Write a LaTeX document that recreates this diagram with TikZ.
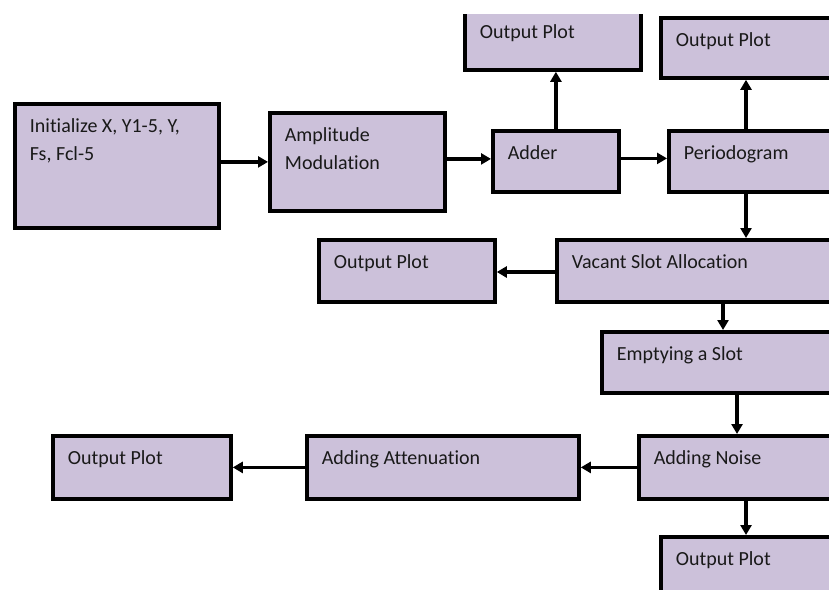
\documentclass[tikz,border=0pt]{standalone}
\usepackage{fontspec}
\setmainfont[Ligatures=NoCommon]{Carlito}
\usetikzlibrary{arrows.meta}

\definecolor{boxfill}{RGB}{204,193,218}

% text of a box, set in its top left corner
\newcommand{\boxtext}[3]{\parbox[t][#2][t]{#1}{\raggedright\leftskip=15pt\rule{0pt}{29pt}#3}}

\tikzset{
  blockbox/.style={draw=black, line width=3.8pt, fill=boxfill, anchor=north west,
    inner sep=0pt, text=black!90, font=\fontsize{20}{28}\selectfont},
  flowarrow/.style={line width=3.5pt, -{Triangle[length=10pt,width=11pt]}}
}

\begin{document}
\begin{tikzpicture}[x=1pt, y=-1pt]

\clip (0,0) rectangle (829,589);
\fill[white] (0,0) rectangle (829,589);

% --- first row ---
\node[blockbox] (init)   at (13,102)  {\boxtext{204pt}{124pt}{Initialize X, Y1-5, Y,\\ Fs, Fcl-5}};
\node[blockbox] (amp)    at (268,111) {\boxtext{175pt}{98pt}{Amplitude\\ Modulation}};
\node[blockbox] (adder)  at (491,129) {\boxtext{126pt}{61pt}{Adder}};
\node[blockbox] (perio)  at (667,129) {\boxtext{200pt}{61pt}{Periodogram}};

% --- output plots on top (the first one is cut at the top) ---
\begin{scope}
  \clip (0,14) rectangle (829,589);
  \node[blockbox] (outA) at (463,8) {\boxtext{176pt}{60pt}{Output Plot}};
\end{scope}
\node[blockbox] (outB)   at (659,16)  {\boxtext{200pt}{60pt}{Output Plot}};

% --- middle rows ---
\node[blockbox] (vacant) at (555,238) {\boxtext{300pt}{62pt}{Vacant Slot Allocation}};
\node[blockbox] (outC)   at (317,238) {\boxtext{176pt}{62pt}{Output Plot}};
\node[blockbox] (empty)  at (600,330) {\boxtext{260pt}{61pt}{Emptying a Slot}};

% --- bottom row ---
\node[blockbox] (noise)  at (637,434) {\boxtext{230pt}{63pt}{Adding Noise}};
\node[blockbox] (atten)  at (305,434) {\boxtext{272pt}{63pt}{Adding Attenuation}};
\node[blockbox] (outD)   at (51,434)  {\boxtext{178pt}{63pt}{Output Plot}};
\node[blockbox] (outE)   at (659,535) {\boxtext{200pt}{80pt}{Output Plot}};

% helper points where the arrows leave the boxes
\coordinate (perioUp)   at ([xshift=79pt]perio.north west);
\coordinate (perioDown) at ([xshift=79pt]perio.south west);
\coordinate (vacantL)   at ([yshift=-34pt]vacant.north west);
\coordinate (vacantD)   at ([xshift=168pt]vacant.south west);
\coordinate (emptyD)    at ([xshift=137pt]empty.south west);
\coordinate (noiseD)    at ([xshift=109pt]noise.south west);

% --- arrows ---
\draw[flowarrow] (init.east |- amp.west) -- (amp.west);
\draw[flowarrow] ([yshift=3pt]amp.east) -- ([yshift=3pt]amp.east -| adder.west);
\draw[flowarrow] ([yshift=3pt]adder.east) -- ([yshift=3pt]adder.east -| perio.west);
\draw[flowarrow] (adder.north) -- (adder.north |- outA.south);
\draw[flowarrow] (perioUp) -- (perioUp |- outB.south);
\draw[flowarrow] (perioDown) -- (perioDown |- vacant.north);
\draw[flowarrow] (vacantL) -- (vacantL -| outC.east);
\draw[flowarrow] (vacantD) -- (vacantD |- empty.north);
\draw[flowarrow] (emptyD) -- (emptyD |- noise.north);
\draw[flowarrow] (noise.west) -- (atten.east);
\draw[flowarrow] (atten.west) -- (outD.east);
\draw[flowarrow] (noiseD) -- (noiseD |- outE.north);

\end{tikzpicture}
\end{document}
